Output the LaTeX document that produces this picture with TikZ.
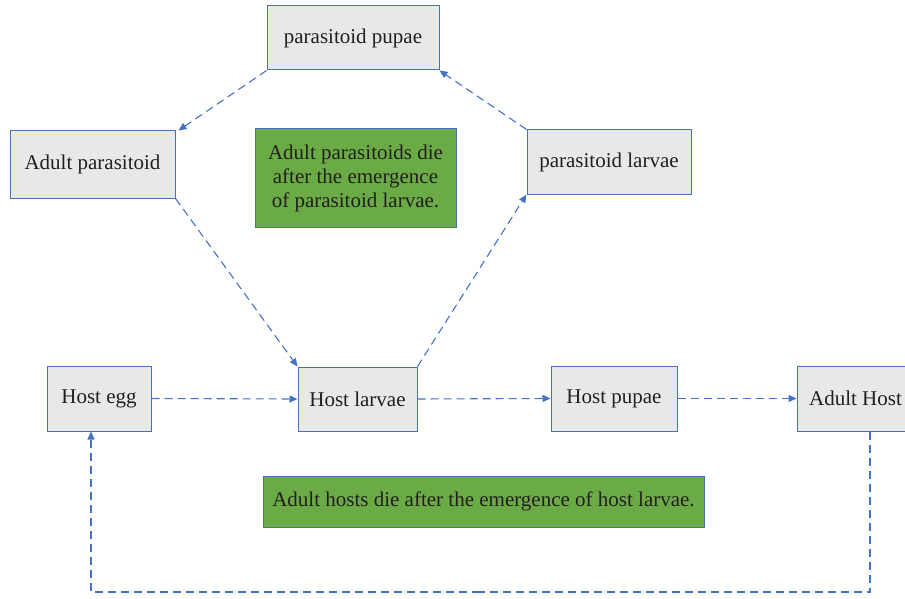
\documentclass[tikz,border=0pt]{standalone}
\usepackage{fontspec}
\setmainfont{Liberation Serif}
\usetikzlibrary{arrows.meta}
\definecolor{boxfill}{HTML}{E7E8E8}
\definecolor{boxline}{HTML}{4A6FB5}
\definecolor{arrline}{HTML}{4472C4}
\definecolor{greenfill}{HTML}{6AAB45}
\definecolor{txt}{HTML}{231F20}
\begin{document}
\begin{tikzpicture}[x=1pt,y=-1pt,
  box/.style={draw=boxline, line width=1pt, fill=boxfill, inner sep=0pt, text=txt, font=\fontsize{21}{24}\selectfont},
  note/.style={draw=boxline, line width=1pt, fill=greenfill, inner sep=0pt, text=txt, align=center, font=\fontsize{21}{24}\selectfont},
  arr/.style={draw=arrline, line width=1.1pt, dash pattern=on 8pt off 5pt, -{Triangle[length=8pt,width=7pt]}},
  loopline/.style={draw=arrline, line width=1.1pt, dash pattern=on 8pt off 5pt}]
\clip (0,0) rectangle (905,599);
\useasboundingbox (0,0) rectangle (905,599);
\node[box, minimum width=172pt, minimum height=64pt] (pupae) at (353,38) {parasitoid pupae};
\node[box, minimum width=165pt, minimum height=67pt] (adultp) at (92.5,164.5) {Adult parasitoid};
\node[note, minimum width=201pt, minimum height=98pt] (note1) at (355.5,178) {Adult parasitoids die\\after the emergence\\of parasitoid larvae.};
\node[box, minimum width=164pt, minimum height=64pt] (plarvae) at (609,162) {parasitoid larvae};
\node[box, minimum width=104pt, minimum height=65pt] (egg) at (99,398.5) {Host egg};
\node[box, minimum width=119pt, minimum height=64pt] (hlarvae) at (357.5,399) {Host larvae};
\node[box, minimum width=126pt, minimum height=65pt] (hpupae) at (614,398.5) {Host pupae};
\node[box, minimum width=117pt, minimum height=65pt] (ahost) at (855.5,398.5) {Adult Host};
\node[note, minimum width=441pt, minimum height=51pt] (note2) at (483.5,501.5) {Adult hosts die after the emergence of host larvae.};
\coordinate (loopc) at (480,592);
\draw[arr] (pupae.south west) -- ([xshift=3pt]adultp.north east);
\draw[arr] (adultp.south east) -- (hlarvae.north west);
\draw[arr] (hlarvae.north east) -- (plarvae.south west);
\draw[arr] (plarvae.north west) -- (pupae.south east);
\draw[arr] (egg.east) -- (hlarvae.west);
\draw[arr] (hlarvae.east) -- (hpupae.west);
\draw[arr] (hpupae.east) -- (ahost.west);
\draw[loopline] ([xshift=14.5pt]ahost.south) |- (loopc);
\draw[arr] (loopc) -| ([xshift=-8pt]egg.south);
\end{tikzpicture}
\end{document}
